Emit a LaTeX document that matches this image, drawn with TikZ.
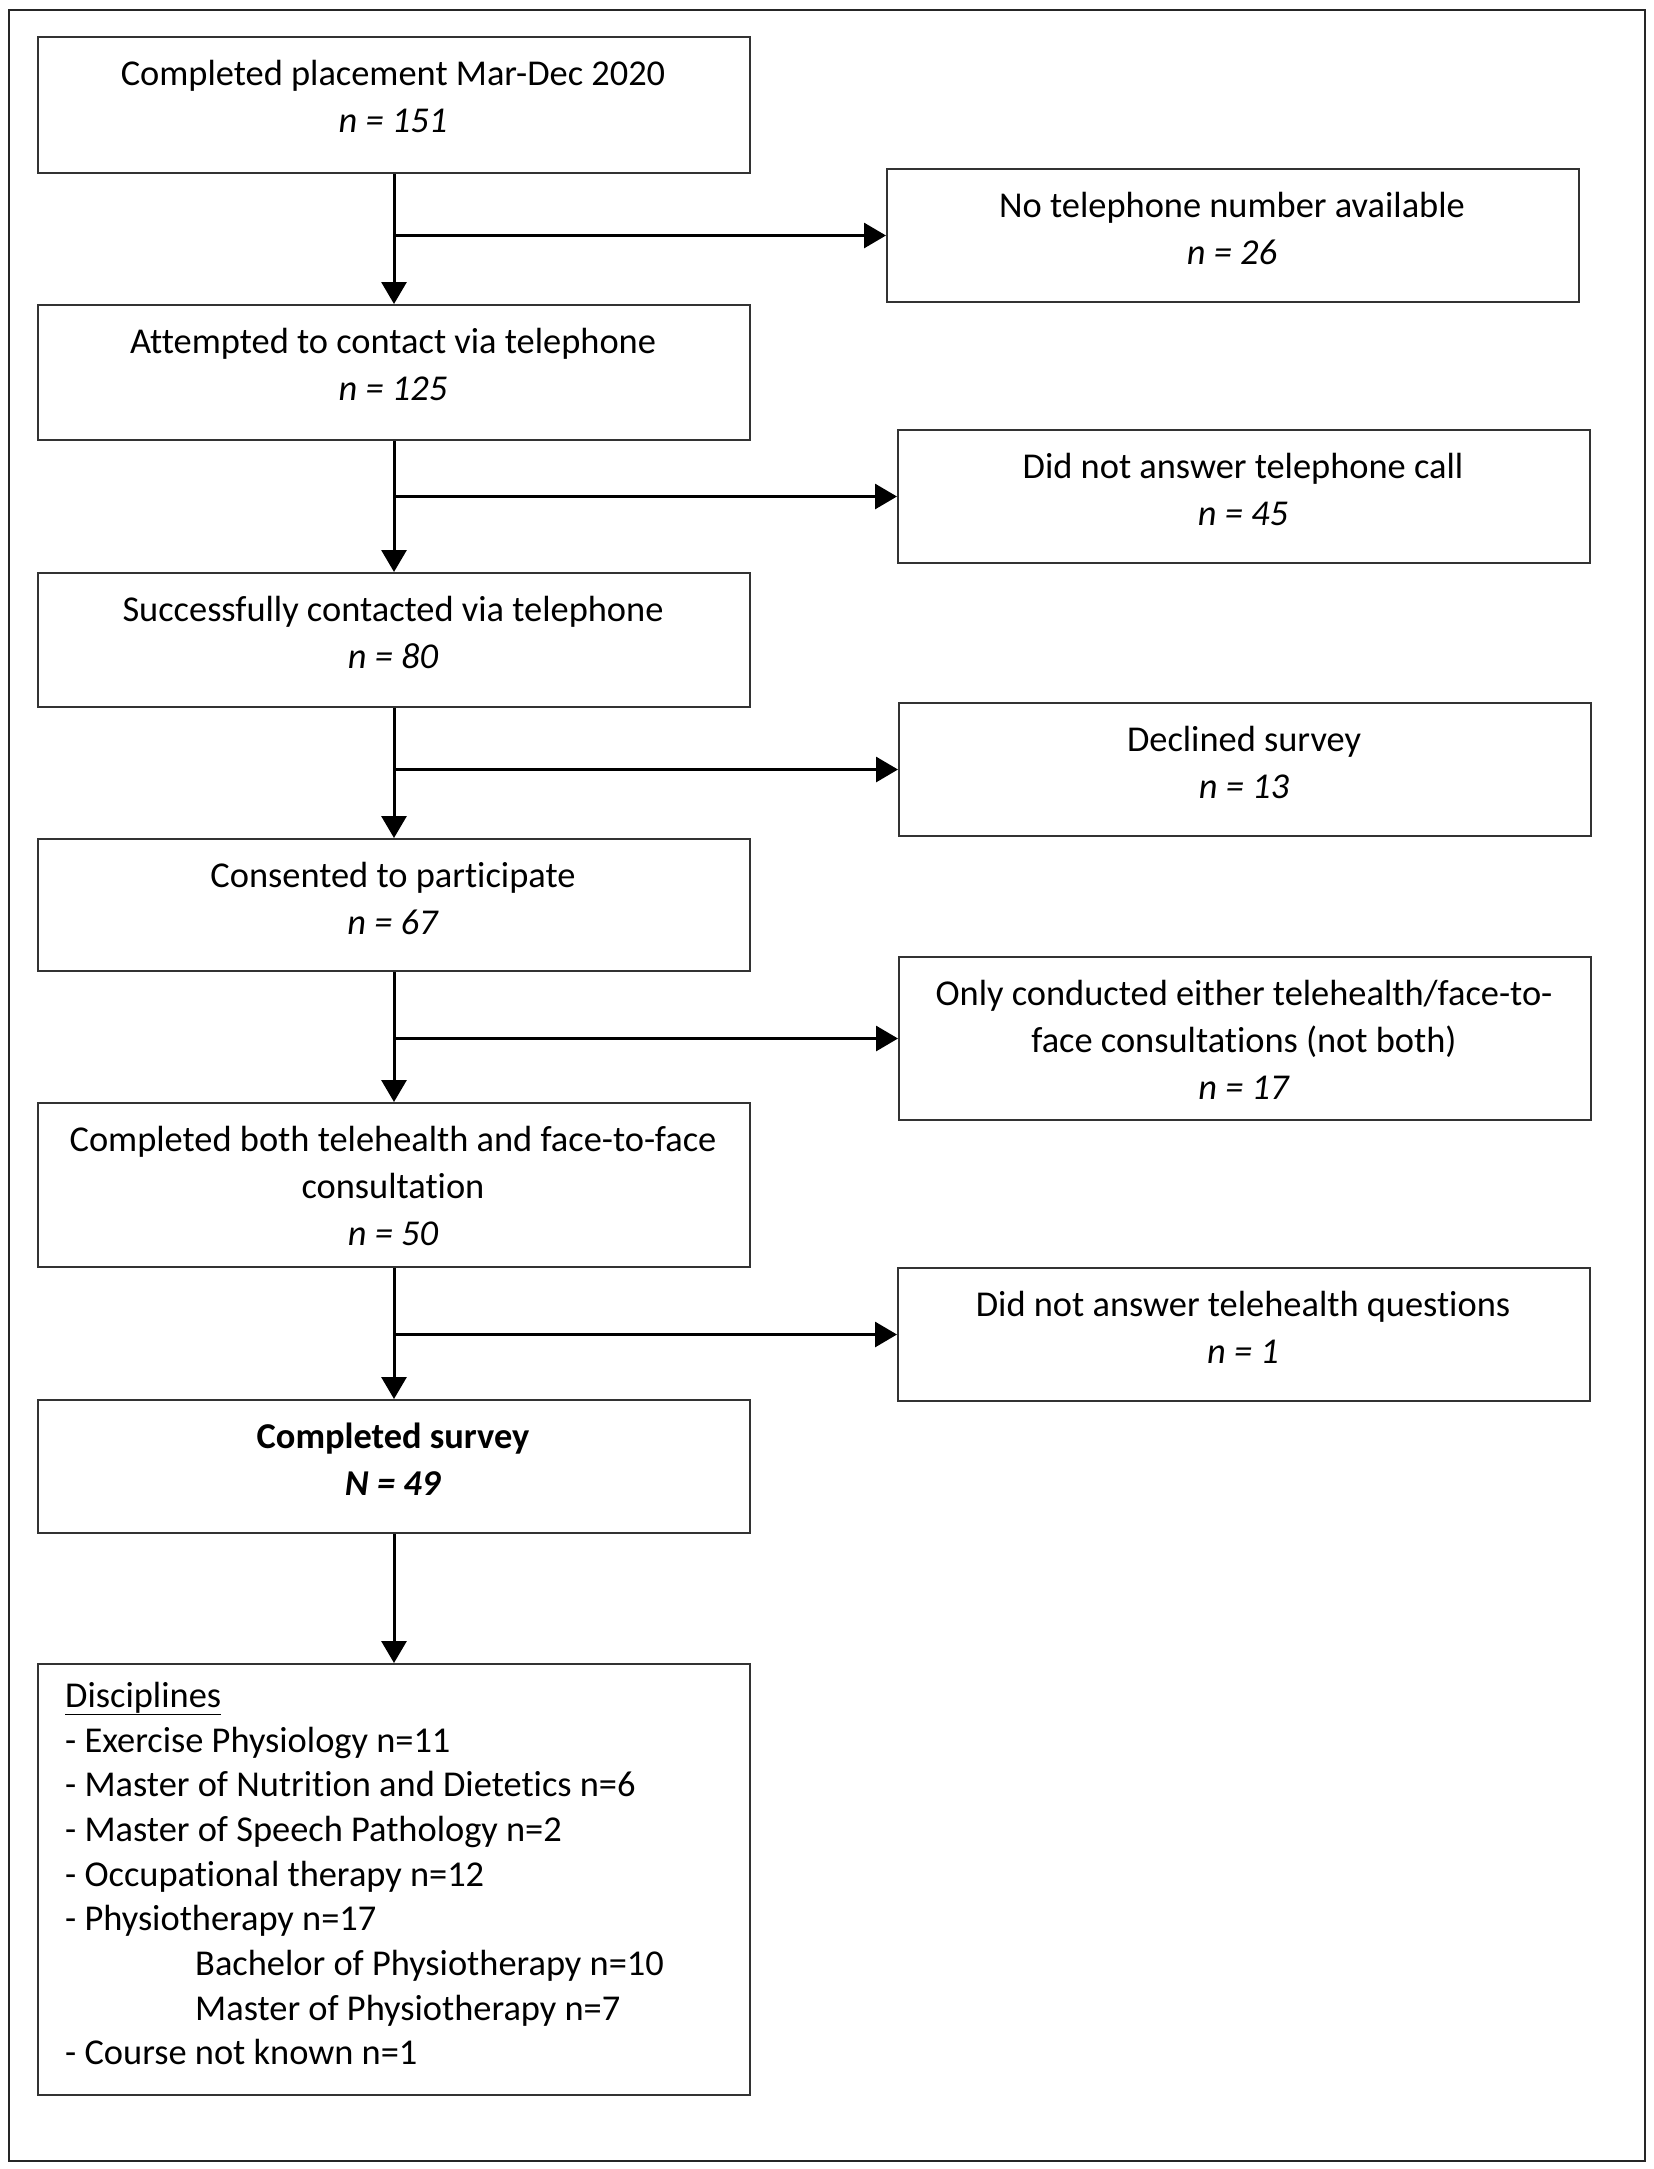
\documentclass[tikz,border=0pt]{standalone}
\usepackage{fontspec}
\setmainfont[Ligatures={NoCommon}]{Carlito}
\usetikzlibrary{arrows.meta}
\begin{document}
\begin{tikzpicture}[x=1pt,y=-1pt,
  frame/.style={draw=black!85, line width=2pt},
  box/.style={draw=black!80, line width=2pt, rectangle, inner sep=0pt, anchor=north west},
  txt/.style={anchor=base, inner sep=0pt, font=\fontsize{36.4pt}{44pt}\selectfont},
  ltxt/.style={txt, anchor=base west},
  arr/.style={line width=3pt, -{Triangle[length=22pt,width=25pt]}}]
\useasboundingbox (0,0) rectangle (1654,2169);
\fill[white] (0,0) rectangle (1654,2169);
\draw[frame] (9,10) rectangle (1645,2161);

% left column boxes
\node[box, minimum width=712pt, minimum height=136pt] (b1) at (37,36) {};
\node[box, minimum width=712pt, minimum height=135pt] (b2) at (37,304) {};
\node[box, minimum width=712pt, minimum height=134pt] (b3) at (37,572) {};
\node[box, minimum width=712pt, minimum height=132pt] (b4) at (37,838) {};
\node[box, minimum width=712pt, minimum height=164pt] (b5) at (37,1102) {};
\node[box, minimum width=712pt, minimum height=133pt] (b6) at (37,1399) {};
\node[box, minimum width=712pt, minimum height=431pt] (b7) at (37,1663) {};

% right column boxes
\node[box, minimum width=692pt, minimum height=133pt] (r1) at (886,168) {};
\node[box, minimum width=692pt, minimum height=133pt] (r2) at (897,429) {};
\node[box, minimum width=692pt, minimum height=133pt] (r3) at (898,702) {};
\node[box, minimum width=692pt, minimum height=163pt] (r4) at (898,956) {};
\node[box, minimum width=692pt, minimum height=133pt] (r5) at (897,1267) {};

% texts
\node[txt] (t1a) at (393,85) {Completed placement Mar-Dec 2020};
\node[txt] (t1b) at (393,132) {\textit{n = 151}};
\node[txt] (s1a) at (1232,217) {No telephone number available};
\node[txt] (s1b) at (1232,264) {\textit{n = 26}};
\node[txt] (t2a) at (393,353) {Attempted to contact via telephone};
\node[txt] (t2b) at (393,400) {\textit{n = 125}};
\node[txt] (s2a) at (1243,478) {Did not answer telephone call};
\node[txt] (s2b) at (1243,525) {\textit{n = 45}};
\node[txt] (t3a) at (393,621) {Successfully contacted via telephone};
\node[txt] (t3b) at (393,668) {\textit{n = 80}};
\node[txt] (s3a) at (1244,751) {Declined survey};
\node[txt] (s3b) at (1244,798) {\textit{n = 13}};
\node[txt] (t4a) at (393,887) {Consented to participate};
\node[txt] (t4b) at (393,934) {\textit{n = 67}};
\node[txt] (s4a) at (1244,1005) {Only conducted either telehealth/face-to-};
\node[txt] (s4b) at (1244,1052) {face consultations (not both)};
\node[txt] (s4c) at (1244,1099) {\textit{n = 17}};
\node[txt] (t5a) at (393,1151) {Completed both telehealth and face-to-face};
\node[txt] (t5b) at (393,1198) {consultation};
\node[txt] (t5c) at (393,1245) {\textit{n = 50}};
\node[txt] (s5a) at (1243,1316) {Did not answer telehealth questions};
\node[txt] (s5b) at (1243,1363) {\textit{n = 1}};
\node[txt] (t6a) at (393,1448) {\textbf{Completed survey}};
\node[txt] (t6b) at (393,1495) {\textbf{\textit{N = 49}}};

\node[ltxt] (l0) at (65,1707) {\underline{Disciplines}};
\node[ltxt] (l1) at (65,1752) {- Exercise Physiology n=11};
\node[ltxt] (l2) at (65,1796) {- Master of Nutrition and Dietetics n=6};
\node[ltxt] (l3) at (65,1841) {- Master of Speech Pathology n=2};
\node[ltxt] (l4) at (65,1886) {- Occupational therapy n=12};
\node[ltxt] (l5) at (65,1930) {- Physiotherapy n=17};
\node[ltxt] (l6) at (195,1975) {Bachelor of Physiotherapy n=10};
\node[ltxt] (l7) at (195,2020) {Master of Physiotherapy n=7};
\node[ltxt] (l8) at (65,2064) {- Course not known n=1};

% connectors
\draw[arr] (b1.south) -- (b2.north);
\draw[arr] (b2.south) -- (b3.north);
\draw[arr] (b3.south) -- (b4.north);
\draw[arr] (b4.south) -- (b5.north);
\draw[arr] (b5.south) -- (b6.north);
\draw[arr] (b6.south) -- (b7.north);
\draw[arr] (b1.south |- r1.west) -- (r1.west);
\draw[arr] (b2.south |- r2.west) -- (r2.west);
\draw[arr] (b3.south |- r3.west) -- (r3.west);
\draw[arr] (b4.south |- r4.west) -- (r4.west);
\draw[arr] (b5.south |- r5.west) -- (r5.west);
\end{tikzpicture}
\end{document}
